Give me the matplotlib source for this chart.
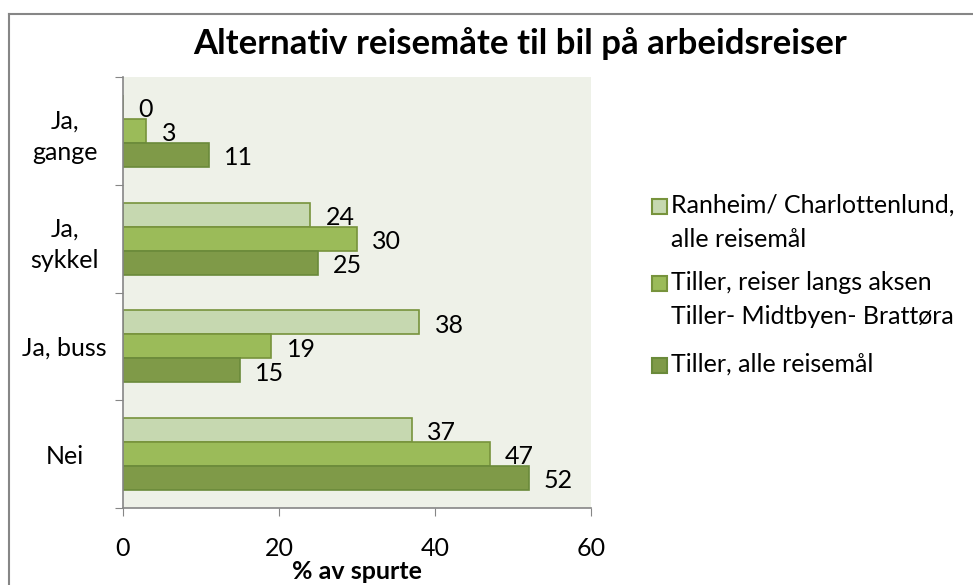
import matplotlib.pyplot as plt
from matplotlib.lines import Line2D
from matplotlib.patches import Rectangle
import numpy as np

plt.rcParams['font.family'] = ['Lato', 'DejaVu Sans']

# Categories (top to bottom) and survey shares in percent
categories = ['Ja,\ngange', 'Ja,\nsykkel', 'Ja, buss', 'Nei']
series_names = ['Ranheim/ Charlottenlund,\nalle reisemål',
                'Tiller, reiser langs aksen\nTiller- Midtbyen- Brattøra',
                'Tiller, alle reisemål']
ranheim = [0, 24, 38, 37]
tiller_aksen = [3, 30, 19, 47]
tiller_alle = [11, 25, 15, 52]

fills = ['#c6d8b0', '#9bbb59', '#7f9a48']
edges = ['#77933c', '#77933c', '#6a8a3a']
fs = 18

W, H = 973, 585
fig = plt.figure(figsize=(W / 100, H / 100), dpi=100)
ax = fig.add_axes([0.1264, 0.1316, 0.481, 0.7368])
ax.set_facecolor('#eef1e8')

pos = np.arange(len(categories))
h = 0.223
for i, vals in enumerate([ranheim, tiller_aksen, tiller_alle]):
    y = pos + (i - 1) * h
    ax.barh(y, vals, height=h, color=fills[i], edgecolor=edges[i], linewidth=1.2)
    for yy, v in zip(y, vals):
        ax.annotate(str(v), (v, yy), xytext=(11, -2), textcoords='offset points',
                    ha='left', va='center', fontsize=fs)

ax.set_xlim(0, 60)
ax.set_ylim(len(categories) - 0.5, -0.5)
ax.set_xticks([0, 20, 40, 60])
ax.set_yticks(np.arange(len(categories) + 1) - 0.5, minor=False)
ax.set_yticklabels([])
ax.set_yticks(pos, minor=True)
ax.set_yticklabels(categories, minor=True, fontsize=fs, ha='center',
                   linespacing=1.45)
ax.tick_params(axis='y', which='minor', length=0, pad=42)
ax.tick_params(axis='y', which='major', length=6, color='#868686', direction='out')
ax.tick_params(axis='x', length=6, color='#868686', labelsize=fs, pad=15)
for s in ['top', 'right']:
    ax.spines[s].set_visible(False)
for s in ['left', 'bottom']:
    ax.spines[s].set_color('#868686')
    ax.spines[s].set_linewidth(1.2)

ax.set_xlabel('% av spurte', fontsize=fs, fontweight='bold', labelpad=0)
fig.text(0.535, 0.925, 'Alternativ reisemåte til bil på arbeidsreiser',
         ha='center', va='center', fontsize=25, fontweight='bold')

# Legend: square key aligned with the first line of each label
first_baselines = [213, 290, 372]
line_step = 34
for name, fc, ec, base in zip(series_names, fills, edges, first_baselines):
    fig.add_artist(Rectangle((652 / W, 1 - (base + 1) / H), 15 / W, 15 / H,
                             transform=fig.transFigure, facecolor=fc,
                             edgecolor=ec, linewidth=1.5))
    for k, line in enumerate(name.split('\n')):
        fig.text(671 / W, 1 - (base + k * line_step) / H, line,
                 ha='left', va='baseline', fontsize=fs)

# Outer chart border
fig.add_artist(Line2D([9 / W, 9 / W], [0, 1 - 13.5 / H],
                      transform=fig.transFigure, color='#868686', lw=1.5))
fig.add_artist(Line2D([9 / W, 1], [1 - 13.5 / H, 1 - 13.5 / H],
                      transform=fig.transFigure, color='#868686', lw=1.5))

fig.savefig('out.png', dpi=100)
